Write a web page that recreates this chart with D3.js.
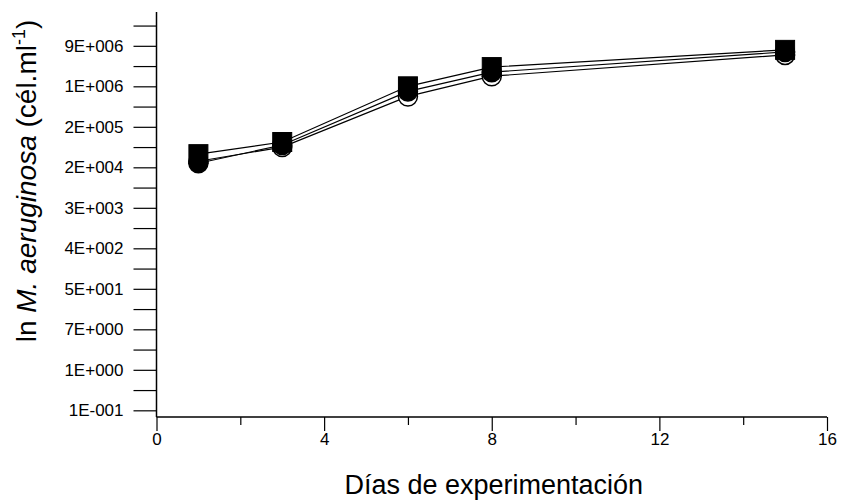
<!DOCTYPE html>
<html>
<head>
<meta charset="utf-8">
<script src="https://cdn.jsdelivr.net/npm/d3@7/dist/d3.min.js"></script>
<style>
  html, body { margin: 0; padding: 0; background: #fff; }
  svg { display: block; font-family: "Liberation Sans", Arial, Helvetica, sans-serif; }
</style>
</head>
<body>
<svg id="chart" width="844" height="503"></svg>
<script>
// ---- data (y values are natural-log of cell density) ----
const days = [1, 3, 6, 8, 15];
const openCircles   = [10.30, 11.00, 13.50, 14.50, 15.55];
const filledCircles = [10.20, 11.10, 13.75, 14.70, 15.70];
const filledSquares = [10.65, 11.25, 14.00, 14.95, 15.80];

const xMajorTicks = [0, 4, 8, 12, 16];
const xMinorTicks = [2, 6, 10, 14];
const yTickValues = [-2, 0, 2, 4, 6, 8, 10, 12, 14, 16];
const yTickLabels = ["1E-001", "1E+000", "7E+000", "5E+001", "4E+002", "3E+003", "2E+004", "2E+005", "1E+006", "9E+006"];
const yMinorTicks = [-1, 1, 3, 5, 7, 9, 11, 13, 15, 17];

const xTitle = "Días de experimentación";

// ---- layout ----
const svg = d3.select("#chart");
const mLeft = 156.5, mRight = 827, mTop = 12, mBottom = 417;

const x = d3.scaleLinear().domain([0, 16]).range([mLeft, mRight]);
const y = d3.scaleLinear().domain([-2.33, 17.67]).range([mBottom, mTop]);

// y axis
const yAxis = d3.axisLeft(y)
  .tickValues(yTickValues.concat(yMinorTicks))
  .tickSize(23)
  .tickPadding(10)
  .tickFormat(d => { const i = yTickValues.indexOf(d); return i >= 0 ? yTickLabels[i] : ""; });
const gy = svg.append("g").attr("transform", `translate(${mLeft},0)`).call(yAxis);
gy.select(".domain").attr("d", `M0,${mBottom}V${mTop}`).attr("stroke", "#000").attr("stroke-width", 1.5);
gy.selectAll(".tick line").attr("stroke", "#000").attr("stroke-width", 1.2);
gy.selectAll(".tick text").attr("font-size", 17).attr("fill", "#000")
  .attr("font-family", "Liberation Sans, Arial, sans-serif");

// x axis (major)
const xAxis = d3.axisBottom(x).tickValues(xMajorTicks).tickSize(14).tickPadding(2).tickFormat(d3.format("d"));
const gx = svg.append("g").attr("transform", `translate(0,${mBottom})`).call(xAxis);
gx.select(".domain").attr("d", `M${mLeft},0H${mRight}`).attr("stroke", "#000").attr("stroke-width", 1.5);
gx.selectAll(".tick line").attr("stroke", "#000").attr("stroke-width", 1.2);
gx.selectAll(".tick text").attr("font-size", 17).attr("fill", "#000")
  .attr("font-family", "Liberation Sans, Arial, sans-serif");

// x axis (minor)
const xAxisMinor = d3.axisBottom(x).tickValues(xMinorTicks).tickSize(8).tickFormat("");
const gxm = svg.append("g").attr("transform", `translate(0,${mBottom})`).call(xAxisMinor);
gxm.select(".domain").remove();
gxm.selectAll(".tick line").attr("stroke", "#000").attr("stroke-width", 1.2);

// axis titles
svg.append("text")
  .attr("x", (mLeft + mRight) / 2 + 2).attr("y", 494)
  .attr("text-anchor", "middle").attr("font-size", 27).attr("fill", "#000")
  .text(xTitle);

const yt = svg.append("text")
  .attr("transform", "translate(36,181) rotate(-90)")
  .attr("text-anchor", "middle").attr("font-size", 28).attr("fill", "#000");
yt.append("tspan").text("ln ");
yt.append("tspan").attr("font-style", "italic").text("M. aeruginosa");
yt.append("tspan").text(" (cél.ml");
yt.append("tspan").attr("font-size", 18).attr("dy", -11).text("-1");
yt.append("tspan").attr("dy", 11).text(")");

// ---- series ----
const line = d3.line().x((d, i) => x(days[i])).y(d => y(d));
const series = [
  { values: openCircles,   shape: "circle", fill: "#fff" },
  { values: filledCircles, shape: "circle", fill: "#000" },
  { values: filledSquares, shape: "square", fill: "#000" }
];

const plot = svg.append("g");
series.forEach(s => {
  plot.append("path").attr("d", line(s.values)).attr("fill", "none")
    .attr("stroke", "#000").attr("stroke-width", 1.2);
});
series.forEach(s => {
  const g = plot.append("g");
  if (s.shape === "circle") {
    g.selectAll("circle").data(s.values).join("circle")
      .attr("cx", (d, i) => x(days[i])).attr("cy", d => y(d)).attr("r", 9.5)
      .attr("fill", s.fill).attr("stroke", "#000").attr("stroke-width", 1.5);
  } else {
    const sz = 19;
    g.selectAll("rect").data(s.values).join("rect")
      .attr("x", (d, i) => x(days[i]) - sz / 2).attr("y", d => y(d) - sz / 2)
      .attr("width", sz).attr("height", sz)
      .attr("fill", s.fill).attr("stroke", "#000").attr("stroke-width", 1);
  }
});
</script>
</body>
</html>
